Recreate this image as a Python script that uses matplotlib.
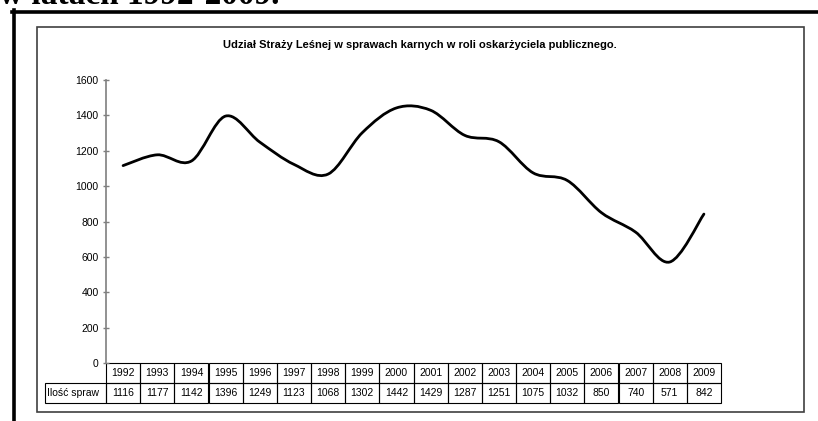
import numpy as np
import matplotlib.pyplot as plt
from matplotlib.path import Path
from matplotlib.patches import PathPatch, Rectangle
from matplotlib.lines import Line2D

# ================================
# DANE
# ================================
lata = [str(r) for r in range(1992, 2010)]
ilosc = [1116, 1177, 1142, 1396, 1249, 1123, 1068, 1302, 1442,
         1429, 1287, 1251, 1075, 1032, 850, 740, 571, 842]
etykieta = "Ilość spraw"
tytul = "Udział Straży Leśnej w sprawach karnych w roli oskarżyciela publicznego."
naglowek = "w latach 1992-2009."
yticks = list(range(0, 1601, 200))

plt.rcParams['font.family'] = ['Liberation Sans', 'DejaVu Sans']

W, H = 818, 421
fig = plt.figure(figsize=(W / 100, H / 100), dpi=100)


def fx(px):
    return px / W


def fy(py):
    return 1 - py / H


# obszar wykresu (piksele: x 106-721, y 80-363)
ax = fig.add_axes([fx(106), fy(363), fx(721) - fx(106), fy(80) - fy(363)])

# wygładzona linia (krzywe Beziera jak w Excelu)
x = np.arange(len(ilosc), dtype=float)
y = np.array(ilosc, dtype=float)
n = len(x)
verts = [(x[0], y[0])]
codes = [Path.MOVETO]
for i in range(n - 1):
    a = max(i - 1, 0)
    b = min(i + 2, n - 1)
    c1 = (x[i] + (x[i + 1] - x[a]) / 6, y[i] + (y[i + 1] - y[a]) / 6)
    c2 = (x[i + 1] - (x[b] - x[i]) / 6, y[i + 1] - (y[b] - y[i]) / 6)
    verts += [c1, c2, (x[i + 1], y[i + 1])]
    codes += [Path.CURVE4] * 3
ax.add_patch(PathPatch(Path(verts, codes), fill=False, lw=2.0,
                       edgecolor='black', capstyle='round', joinstyle='round'))

ax.set_xlim(-0.5, n - 0.5)
ax.set_ylim(0, 1600)
ax.set_yticks(yticks)
ax.set_xticks([])
for s in ['top', 'right', 'bottom']:
    ax.spines[s].set_visible(False)
ax.spines['left'].set_color('#7f7f7f')
ax.spines['left'].set_linewidth(1.2)
ax.tick_params(axis='y', direction='inout', length=4.5, width=1, color='#7f7f7f',
               labelsize=7.5, pad=3)
ax.patch.set_alpha(0)

# tabela danych pod wykresem (współrzędne osi)
rw = 61 / 615    # szerokość kolumny etykiety
rh = 20 / 283    # wysokość wiersza
cw = 1 / n
tr = ax.transAxes


def komorka(x0, y0, w, h, tekst, ha='center', dx=0.0):
    ax.add_patch(Rectangle((x0, y0), w, h, transform=tr, fill=False,
                           edgecolor='black', lw=0.8, clip_on=False))
    xt = x0 + w / 2 if ha == 'center' else x0 + dx
    ax.text(xt, y0 + h / 2, tekst, transform=tr, ha=ha, va='center',
            fontsize=7.5, clip_on=False)


for j, rok in enumerate(lata):
    komorka(j * cw, -rh, cw, rh, rok)
    komorka(j * cw, -2 * rh, cw, rh, str(ilosc[j]))
komorka(-rw, -2 * rh, rw, rh, etykieta, ha='left', dx=2 / 615)

# ramki i napisy
fig.add_artist(Line2D([fx(12), 1], [fy(11.5), fy(11.5)], color='black', lw=2.6))
fig.add_artist(Line2D([fx(14), fx(14)], [fy(10), 0], color='black', lw=2.6))
fig.add_artist(Rectangle((fx(37), fy(412)), fx(804) - fx(37), fy(27) - fy(412),
                         fill=False, edgecolor='#404040', lw=1.2))
fig.text(fx(-1), fy(4), naglowek, family='Liberation Serif', fontweight='bold',
         fontsize=24, ha='left', va='baseline')
fig.text(fx(420), fy(45), tytul, fontsize=8, fontweight='bold',
         ha='center', va='center')

fig.savefig('out.png', dpi=100)
